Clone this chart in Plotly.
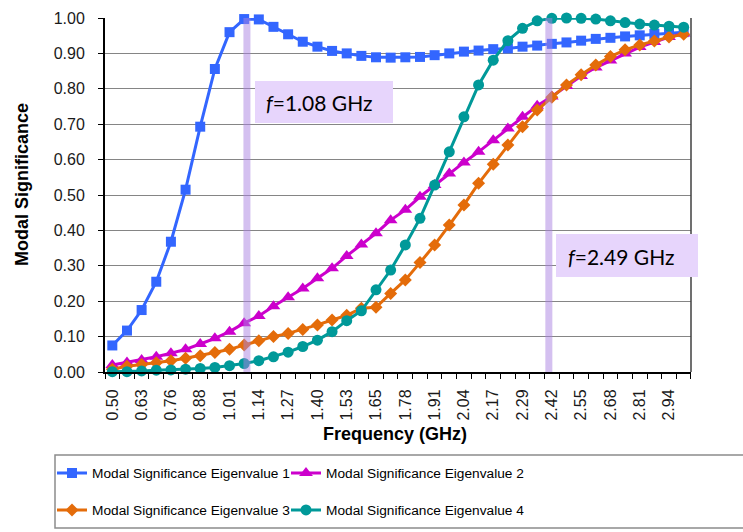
import plotly.graph_objects as go

# ---------------- data ----------------
freq = [0.5000, 0.5641, 0.6282, 0.6923, 0.7564, 0.8205, 0.8846, 0.9487, 1.0128, 1.0769,
        1.1410, 1.2051, 1.2692, 1.3333, 1.3974, 1.4615, 1.5256, 1.5897, 1.6538, 1.7179,
        1.7821, 1.8462, 1.9103, 1.9744, 2.0385, 2.1026, 2.1667, 2.2308, 2.2949, 2.3590,
        2.4231, 2.4872, 2.5513, 2.6154, 2.6795, 2.7436, 2.8077, 2.8718, 2.9359, 3.0000]
tick_labels = ["0.50", "0.63", "0.76", "0.88", "1.01", "1.14", "1.27", "1.40", "1.53", "1.65",
               "1.78", "1.91", "2.04", "2.17", "2.29", "2.42", "2.55", "2.68", "2.81", "2.94"]

ev1 = [0.075, 0.117, 0.175, 0.255, 0.368, 0.515, 0.693, 0.856, 0.960, 0.997,
       0.996, 0.975, 0.954, 0.933, 0.919, 0.907, 0.900, 0.893, 0.889, 0.888,
       0.889, 0.890, 0.895, 0.900, 0.905, 0.908, 0.912, 0.914, 0.919, 0.922,
       0.927, 0.931, 0.936, 0.941, 0.944, 0.948, 0.951, 0.955, 0.958, 0.960]
ev2 = [0.020, 0.027, 0.034, 0.043, 0.053, 0.064, 0.079, 0.095, 0.114, 0.138,
       0.158, 0.186, 0.211, 0.236, 0.265, 0.293, 0.328, 0.360, 0.392, 0.429,
       0.458, 0.495, 0.528, 0.561, 0.592, 0.622, 0.655, 0.688, 0.721, 0.752,
       0.778, 0.808, 0.836, 0.860, 0.880, 0.900, 0.918, 0.932, 0.946, 0.956]
ev3 = [0.008, 0.016, 0.021, 0.026, 0.032, 0.039, 0.046, 0.055, 0.064, 0.076,
       0.088, 0.100, 0.109, 0.120, 0.133, 0.147, 0.160, 0.180, 0.183, 0.222,
       0.260, 0.309, 0.359, 0.415, 0.472, 0.533, 0.587, 0.641, 0.693, 0.740,
       0.776, 0.811, 0.840, 0.867, 0.891, 0.910, 0.924, 0.935, 0.946, 0.954]
ev4 = [0.001, 0.001, 0.003, 0.005, 0.006, 0.008, 0.010, 0.013, 0.018, 0.024,
       0.032, 0.043, 0.056, 0.072, 0.090, 0.114, 0.145, 0.173, 0.232, 0.288,
       0.359, 0.434, 0.528, 0.622, 0.721, 0.811, 0.881, 0.936, 0.971, 0.992,
       0.999, 1.000, 0.999, 0.997, 0.992, 0.987, 0.983, 0.980, 0.977, 0.974]

series_names = ["Modal Significance Eigenvalue 1", "Modal Significance Eigenvalue 2",
                "Modal Significance Eigenvalue 3", "Modal Significance Eigenvalue 4"]
marked_freqs = [1.089, 2.41]          # visual positions of the highlight bars
marked_texts = ["<i>f</i>=1.08 GHz", "<i>f</i>=2.49 GHz"]

# ---------------- style ----------------
colors = ["#3366FF", "#CC00CC", "#E46C0A", "#009999"]
symbols = ["square", "triangle-up", "diamond", "circle"]
msizes = [10, 12, 10, 11]

W, H = 743, 532
L, R, T, B = 105, 691, 18, 372
step = freq[1] - freq[0]
xr0, xr1 = freq[0] - step / 2, freq[-1] + step / 2


def pxx(p):
    return (p - L) / (R - L)


def pxy(p):
    return (B - p) / (B - T)


fig = go.Figure()
legend_ids = ["legend", "legend2", "legend3", "legend4"]
for ys, nm, c, s, ms, lg in zip([ev1, ev2, ev3, ev4], series_names, colors, symbols, msizes, legend_ids):
    fig.add_trace(go.Scatter(
        x=freq, y=ys, mode="lines+markers", name=nm,
        line=dict(color=c, width=3),
        marker=dict(symbol=s, size=ms, color=c),
        cliponaxis=False, legend=lg))

legend_font = dict(family="Liberation Sans, Arial", size=13.7, color="black")
leg_pos = [(52, 473), (286, 473), (52, 510), (286, 510)]
layout_legends = {}
for lg, (lx, ly) in zip(legend_ids, leg_pos):
    layout_legends[lg] = dict(x=pxx(lx), y=pxy(ly), xanchor="left", yanchor="middle",
                              bgcolor="rgba(0,0,0,0)", borderwidth=0, font=legend_font,
                              orientation="h")

tick_font = dict(family="Liberation Sans, Arial", size=16, color="#1a1a1a")

fig.update_layout(
    width=W, height=H,
    margin=dict(l=L, r=W - R, t=T, b=H - B, autoexpand=False),
    paper_bgcolor="white", plot_bgcolor="white",
    showlegend=True,
    **layout_legends,
    xaxis=dict(
        range=[xr0, xr1], tickmode="array", tickvals=freq[::2], ticktext=tick_labels,
        ticks="", tickangle=-90, tickfont=tick_font, ticklabelstandoff=9,
        showgrid=False, zeroline=False, showline=True, linecolor="black", linewidth=2,
        automargin=False,
        minor=dict(tickmode="linear", tick0=xr0, dtick=step, ticks="outside",
                   ticklen=5, tickcolor="black", tickwidth=1, showgrid=False),
    ),
    yaxis=dict(
        range=[0, 1], tickmode="linear", tick0=0, dtick=0.1, tickformat=".2f",
        ticks="outside", ticklen=5, tickcolor="black", tickfont=tick_font,
        ticklabelstandoff=10, automargin=False,
        showgrid=True, gridcolor="#858585", gridwidth=1,
        zeroline=False, showline=True, linecolor="black", linewidth=2,
    ),
)

shapes = []
# right border of plot area
shapes.append(dict(type="line", xref="paper", yref="paper", x0=1, x1=1, y0=0, y1=1,
                   line=dict(color="#404040", width=1.5), layer="above"))
# highlight bars
for f in marked_freqs:
    shapes.append(dict(type="line", xref="x", yref="y", x0=f, x1=f, y0=0, y1=1,
                       line=dict(color="rgba(170,130,225,0.5)", width=7), layer="above"))
# label boxes
boxes = [(255, 81, 393, 123), (556, 234, 698, 277)]
for (bx0, by0, bx1, by1) in boxes:
    shapes.append(dict(type="rect", xref="paper", yref="paper",
                       x0=pxx(bx0), x1=pxx(bx1), y0=pxy(by1), y1=pxy(by0),
                       fillcolor="#E7D5FC", line=dict(width=0), layer="above"))
# legend frame
shapes.append(dict(type="rect", xref="paper", yref="paper",
                   x0=pxx(55), x1=pxx(746), y0=pxy(528), y1=pxy(455),
                   line=dict(color="#8c8c8c", width=1.5), fillcolor="rgba(0,0,0,0)"))
fig.update_layout(shapes=shapes)

annotations = []
for txt, (tx, ty) in zip(marked_texts, [(264, 102), (566, 256)]):
    annotations.append(dict(text=txt, xref="paper", yref="paper", x=pxx(tx), y=pxy(ty),
                            xanchor="left", yanchor="middle", showarrow=False,
                            font=dict(family="Lato, Open Sans, sans-serif", size=21, color="black")))
annotations.append(dict(text="<b>Modal Significance</b>", xref="paper", yref="paper",
                        x=pxx(22), y=pxy(185), textangle=-90, showarrow=False,
                        xanchor="center", yanchor="middle",
                        font=dict(family="Liberation Sans, Arial", size=18, color="black")))
annotations.append(dict(text="<b>Frequency (GHz)</b>", xref="paper", yref="paper",
                        x=pxx(395), y=pxy(434), showarrow=False,
                        xanchor="center", yanchor="middle",
                        font=dict(family="Liberation Sans, Arial", size=18, color="black")))
fig.update_layout(annotations=annotations)

fig.write_html("out.html")
